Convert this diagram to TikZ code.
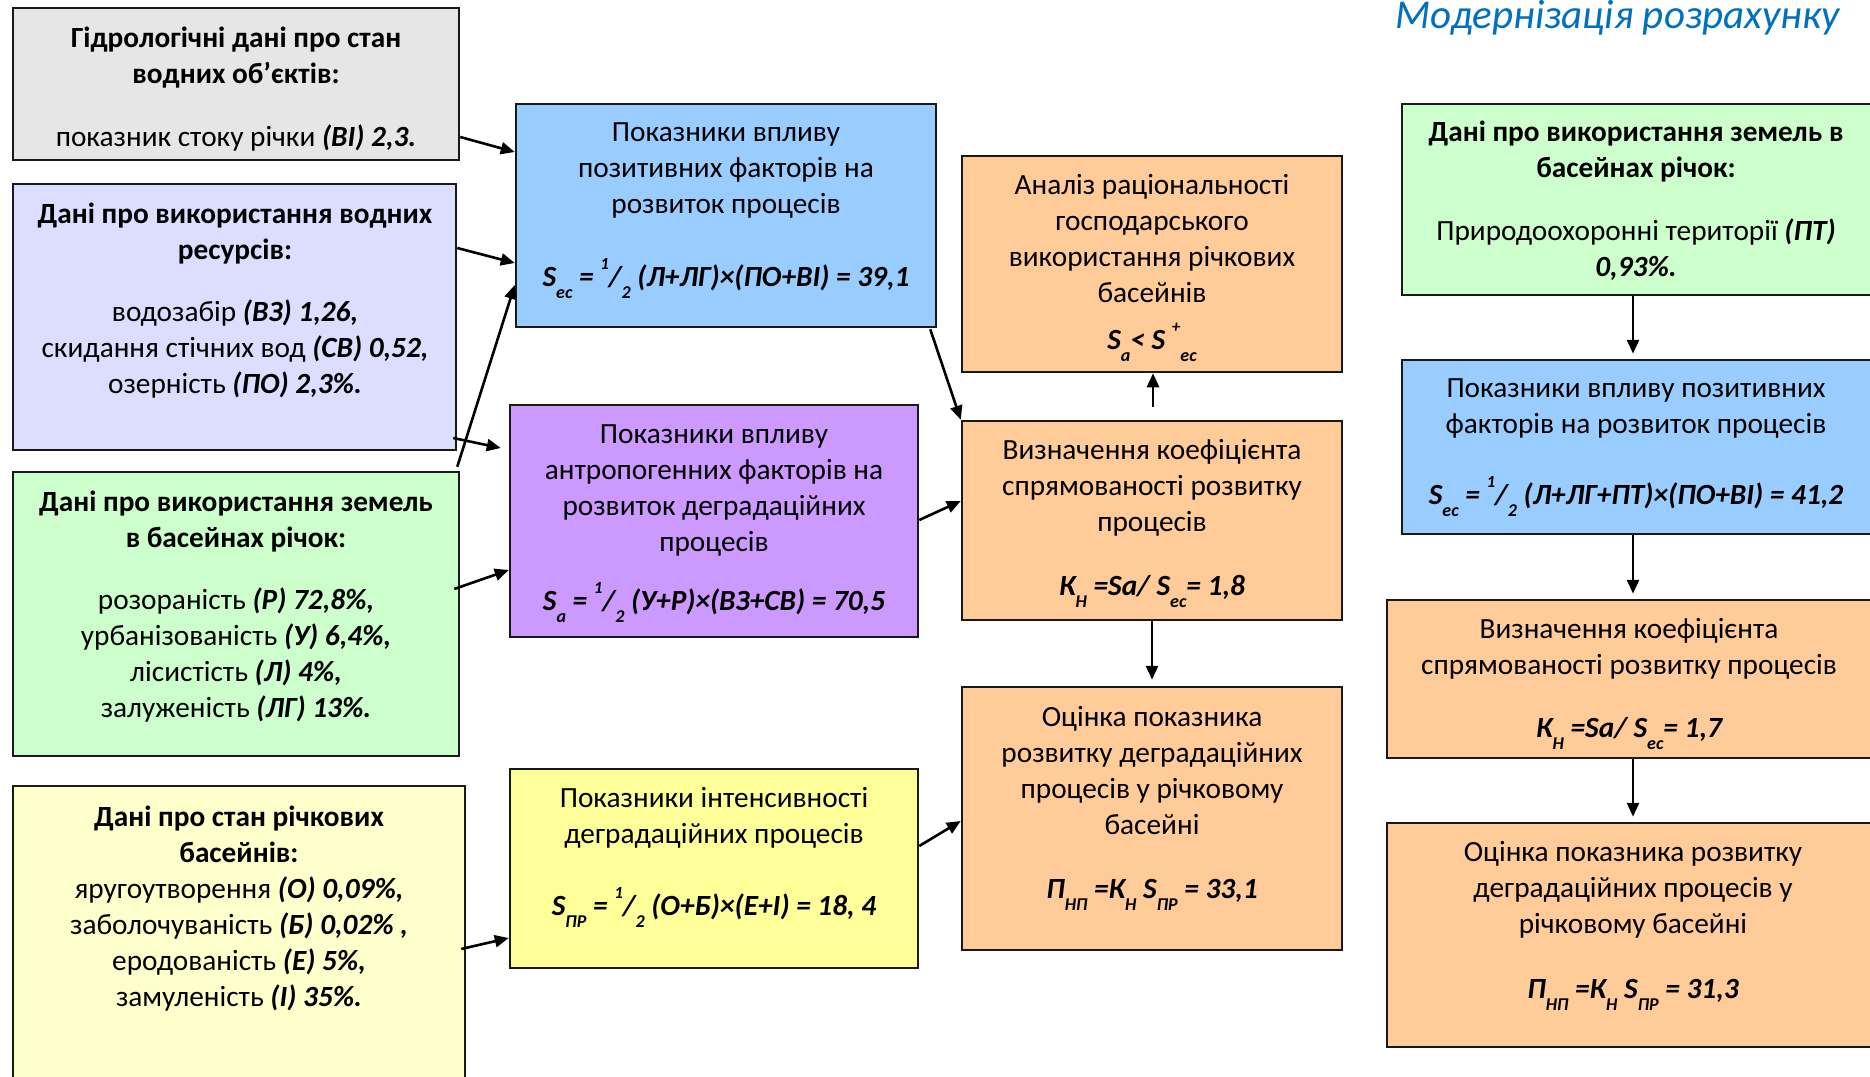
\documentclass[tikz,border=0pt]{standalone}
\usepackage{fontspec}
\setmainfont{Carlito}
\usetikzlibrary{arrows.meta,calc}
\definecolor{cgrey}{HTML}{E6E6E6}
\definecolor{clav}{HTML}{DDDDFF}
\definecolor{cgreen}{HTML}{CCFFCC}
\definecolor{clyel}{HTML}{FFFFCC}
\definecolor{cblue}{HTML}{99CCFF}
\definecolor{cpurp}{HTML}{CC99FF}
\definecolor{cyel}{HTML}{FFFF99}
\definecolor{corange}{HTML}{FFCC99}
\definecolor{ctitle}{HTML}{0070C0}
\newcommand\lo[1]{\raisebox{-12pt}{\fontsize{18}{18}\selectfont #1}}
\newcommand\hi[1]{\raisebox{17pt}{\fontsize{17}{17}\selectfont #1}}
\newcommand\bi[1]{{\bfseries\itshape #1}}
\begin{document}
\begin{tikzpicture}[x=1pt,y=-1pt,
  box/.style={draw=black!90,line width=2.5pt,rectangle,inner sep=0pt},
  txt/.style={align=center,inner sep=0pt,font=\fontsize{29.3}{36}\selectfont},
  arr/.style={line width=2.6pt,-{Triangle[length=14pt,width=12pt]}}]
\clip (0,0) rectangle (1870,1076);
\fill[white] (0,0) rectangle (1870,1076);
% boxes
\node[box,fill=cgrey,minimum width=446pt,minimum height=152pt] (b1) at (236,84) {};
\node[box,fill=clav,minimum width=443pt,minimum height=266pt] (b2) at (234.5,317) {};
\node[box,fill=cgreen,minimum width=446pt,minimum height=284pt] (b3) at (236,614) {};
\node[box,fill=clyel,minimum width=452pt,minimum height=304pt] (b4) at (239,938) {};
\node[box,fill=cblue,minimum width=420pt,minimum height=223pt] (b5) at (726,215.5) {};
\node[box,fill=cpurp,minimum width=408pt,minimum height=232pt] (b6) at (714,521) {};
\node[box,fill=cyel,minimum width=408pt,minimum height=199pt] (b7) at (714,868.5) {};
\node[box,fill=corange,minimum width=380pt,minimum height=216pt] (b8) at (1152,264) {};
\node[box,fill=corange,minimum width=380pt,minimum height=199pt] (b9) at (1152,520.5) {};
\node[box,fill=corange,minimum width=380pt,minimum height=263pt] (b10) at (1152,818.5) {};
\node[box,fill=cgreen,minimum width=488pt,minimum height=191pt] (b11) at (1646,199.5) {};
\node[box,fill=cblue,minimum width=488pt,minimum height=174pt] (b12) at (1646,447) {};
\node[box,fill=corange,minimum width=503pt,minimum height=158pt] (b13) at (1638.5,679) {};
\node[box,fill=corange,minimum width=503pt,minimum height=224pt] (b14) at (1638.5,935) {};
% title
\node[anchor=base west,inner sep=0pt,text=ctitle,font=\fontsize{41}{44}\selectfont\itshape] (title) at (1395,28) {Модернізація розрахунку};
% texts
\node[txt] (t1) at (236,89.5) {\textbf{Гідрологічні дані про стан}\\ \textbf{водних об’єктів:}\\[27pt] показник стоку річки \bi{(ВІ) 2,3.}};
\node[txt] (t2) at (235,301) {\textbf{Дані про використання водних}\\ \textbf{ресурсів:}\\[26pt] водозабір \bi{(ВЗ) 1,26,}\\ скидання стічних вод \bi{(СВ) 0,52,}\\ озерність \bi{(ПО) 2,3\%.}};
\node[txt] (t3) at (236,606.5) {\textbf{Дані про використання земель}\\ \textbf{в басейнах річок:}\\[26pt] розораність \bi{(Р) 72,8\%,}\\ урбанізованість \bi{(У) 6,4\%,}\\ лісистість \bi{(Л) 4\%,}\\ залуженість \bi{(ЛГ) 13\%.}};
\node[txt] (t4) at (239,908.5) {\textbf{Дані про стан річкових}\\ \textbf{басейнів:}\\ яругоутворення \bi{(О) 0,09\%,}\\ заболочуваність \bi{(Б) 0,02\% ,}\\ еродованість \bi{(Е) 5\%,}\\ замуленість \bi{(І) 35\%.}};
\node[txt] (t5) at (726,210.5) {Показники впливу\\ позитивних факторів на\\ розвиток процесів\\[37pt] \bi{S\lo{ec} = \hi{1}/\lo{2} (Л+ЛГ)×(ПО+ВІ) = 39,1}};
\node[txt] (t6) at (714,524) {Показники впливу\\ антропогенних факторів на\\ розвиток деградаційних\\ процесів\\[23pt] \bi{S\lo{a} = \hi{1}/\lo{2} (У+Р)×(ВЗ+СВ) = 70,5}};
\node[txt] (t7) at (714,857) {Показники інтенсивності\\ деградаційних процесів\\[36pt] \bi{S\lo{ПР} = \hi{1}/\lo{2} (О+Б)×(Е+І) = 18, 4}};
\node[txt] (t8) at (1152,268) {Аналіз раціональності\\ господарського\\ використання річкових\\ басейнів\\[11pt] \bi{S\lo{a}< S \hi{+}\lo{ec}}};
\node[txt] (t9) at (1152,523.5) {Визначення коефіцієнта\\ спрямованості розвитку\\ процесів\\[28pt] \bi{К\lo{Н} =Sa/ S\lo{ec}= 1,8}};
\node[txt] (t10) at (1152,808.5) {Оцінка показника\\ розвитку деградаційних\\ процесів у річковому\\ басейні\\[28pt] \bi{П\lo{НП} =К\lo{Н} S\lo{ПР} = 33,1}};
\node[txt] (t11) at (1636,201) {\textbf{Дані про використання земель в}\\ \textbf{басейнах річок:}\\[27pt] Природоохоронні території \bi{(ПТ)}\\ \bi{0,93\%.}};
\node[txt] (t12) at (1636,447.5) {Показники впливу позитивних\\ факторів на розвиток процесів\\[35pt] \bi{S\lo{ec} = \hi{1}/\lo{2} (Л+ЛГ+ПТ)×(ПО+ВІ) = 41,2}};
\node[txt] (t13) at (1629,683.5) {Визначення коефіцієнта\\ спрямованості розвитку процесів\\[27pt] \bi{К\lo{Н} =Sa/ S\lo{ec}= 1,7}};
\node[txt] (t14) at (1633,926) {Оцінка показника розвитку\\ деградаційних процесів у\\ річковому басейні\\[29pt] \bi{П\lo{НП} =К\lo{Н} S\lo{ПР} = 31,3}};
% connectors
\coordinate (rc) at (1633,0);
\draw[arr] (b1.east |- 0,137) -- (b5.west |- 0,152);
\draw[arr] (b2.east |- 0,248) -- (b5.west |- 0,263);
\draw[arr] ($(b3.north east)+(-3,-4)$) -- (b5.west |- 0,285);
\draw[arr] ($(b2.east |- 0,438)+(-4,0)$) -- ($(b6.west |- 0,448)+(-8,0)$);
\draw[arr] ($(b3.east |- 0,589)+(-6,0)$) -- (b6.west |- 0,570);
\draw[arr] ($(b4.east |- 0,949)+(-5,0)$) -- (b7.west |- 0,938);
\draw[arr] ($(b5.south east)+(-7,1)$) -- (b9.north west);
\draw[arr] (b6.east |- 0,520) -- (b9.west |- 0,501);
\draw[arr] ($(b9.north)+(1,-13)$) -- ($(b8.south)+(1,0)$);
\draw[arr,shorten >=6pt] (b9.south) -- (b10.north);
\draw[arr] (b7.east |- 0,846) -- (b10.west |- 0,821);
\draw[arr,shorten >=5pt] (b11.south -| rc) -- (b12.north -| rc);
\draw[arr,shorten >=5pt] (b12.south -| rc) -- (b13.north -| rc);
\draw[arr,shorten >=5pt] (b13.south -| rc) -- (b14.north -| rc);
\end{tikzpicture}
\end{document}
